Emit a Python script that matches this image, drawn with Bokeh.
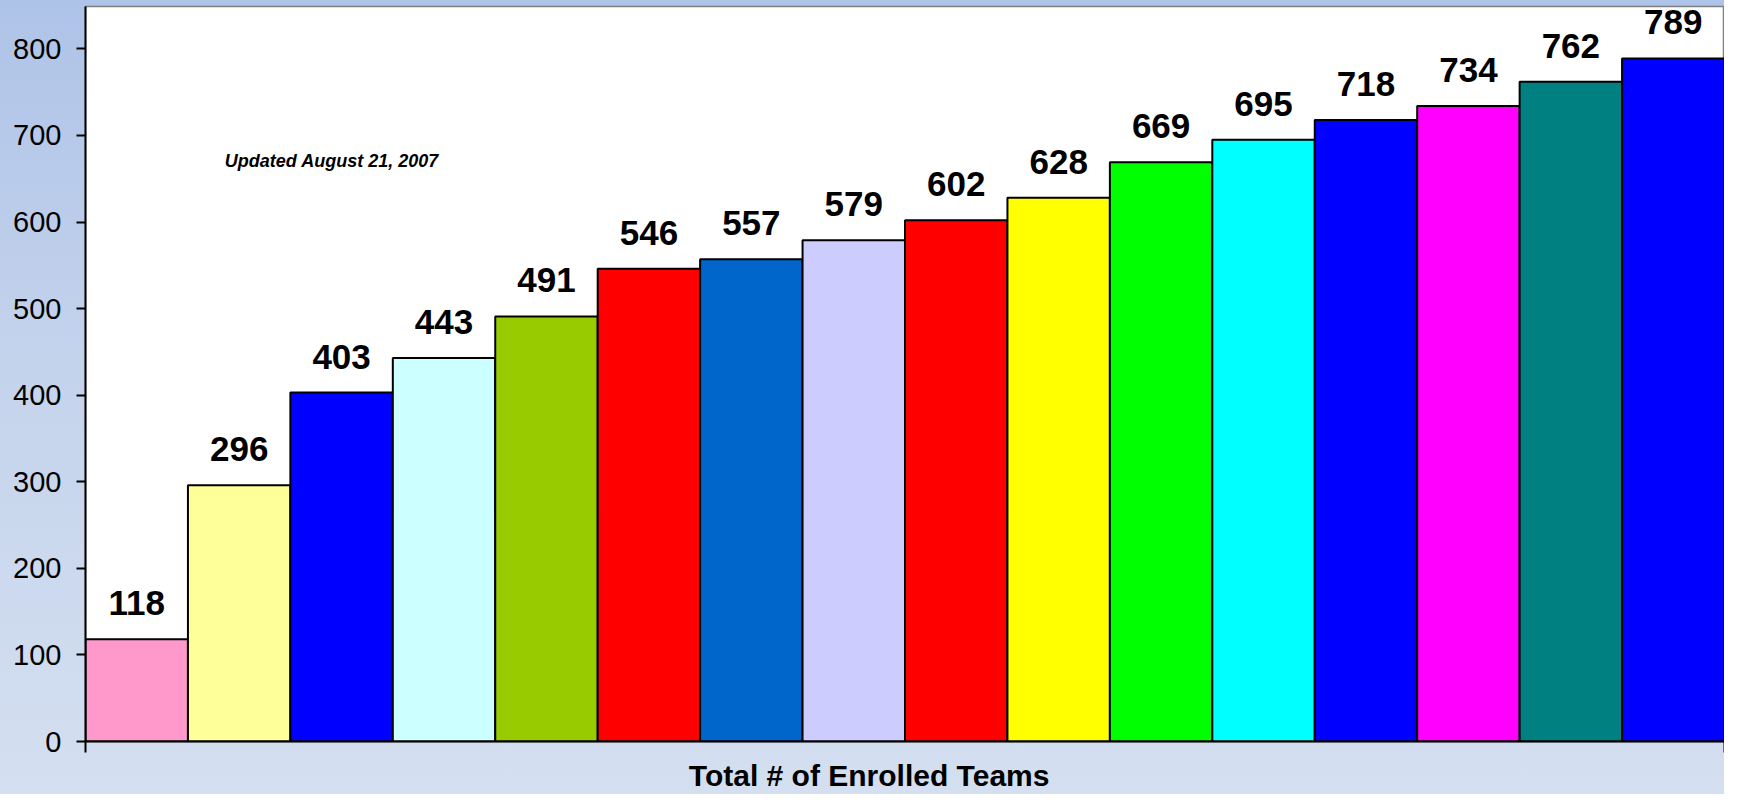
from bokeh.plotting import figure
from bokeh.models import ColumnDataSource, LabelSet, Label, FixedTicker, Range1d
from bokeh.core.properties import value
from bokeh.embed import file_html
from bokeh.resources import INLINE

values = [118, 296, 403, 443, 491, 546, 557, 579, 602, 628, 669, 695, 718, 734, 762, 789]
colors = ["#FF99CC", "#FFFF99", "#0000FF", "#CCFFFF", "#99CC00", "#FF0000", "#0066CC", "#CCCCFF",
          "#FF0000", "#FFFF00", "#00FF00", "#00FFFF", "#0000FF", "#FF00FF", "#008080", "#0000FF"]
y_ticks = [0, 100, 200, 300, 400, 500, 600, 700, 800]
category_label = "Total # of Enrolled Teams"
category_pos = 7.15
note = "Updated August 21, 2007"

n = len(values)
xs = list(range(n))
src = ColumnDataSource(dict(x=xs, top=values, color=colors, label=[str(v) for v in values]))

FONT = "Liberation Sans"

p = figure(width=1724, height=794, output_backend="svg", toolbar_location=None,
           x_range=Range1d(-0.5, n - 0.5), y_range=Range1d(0, 849),
           min_border_left=85, min_border_right=0, min_border_top=6, min_border_bottom=53)
p.border_fill_color = None
p.background_fill_color = "white"
p.outline_line_color = "#808080"
p.outline_line_width = 1.5
p.styles = {"background": "linear-gradient(to bottom, #aec3e8 0%, #c4d3ec 45%, #d4dff0 100%)"}

p.vbar(x="x", top="top", width=1.0, bottom=0, fill_color="color", line_color="black",
       line_width=2, source=src)

labels = LabelSet(x="x", y="top", text="label", source=src, text_align="center",
                  text_baseline="alphabetic", y_offset=24, text_font=value(FONT),
                  text_font_size=value("35px"), text_font_style="bold", text_color="black")
p.add_layout(labels)

p.add_layout(Label(x=0.86, y=671, text=note, text_font=FONT, text_font_size="18px",
                   text_font_style="bold italic", text_color="black", text_baseline="alphabetic"))

p.xgrid.visible = False
p.ygrid.visible = False

p.yaxis.ticker = FixedTicker(ticks=y_ticks)
p.yaxis.axis_line_color = "black"
p.yaxis.axis_line_width = 2
p.yaxis.major_tick_line_color = "black"
p.yaxis.major_tick_line_width = 2
p.yaxis.major_tick_out = 9
p.yaxis.major_tick_in = 0
p.yaxis.minor_tick_line_color = None
p.yaxis.major_label_text_font = FONT
p.yaxis.major_label_text_font_size = "29px"
p.yaxis.major_label_text_color = "black"
p.yaxis.major_label_standoff = 15

# category axis: one label in the middle, edge ticks drawn as minor ticks
p.xaxis.ticker = FixedTicker(ticks=[category_pos], minor_ticks=[-0.5, n - 0.5])
p.xaxis.major_label_overrides = {category_pos: category_label}
p.xaxis.major_label_text_font = FONT
p.xaxis.major_label_text_font_size = "30px"
p.xaxis.major_label_text_font_style = "bold"
p.xaxis.major_label_text_color = "black"
p.xaxis.major_label_standoff = 6
p.xaxis.axis_line_color = "black"
p.xaxis.axis_line_width = 2
p.xaxis.major_tick_line_color = None
p.xaxis.major_tick_out = 0
p.xaxis.major_tick_in = 0
p.xaxis.minor_tick_line_color = "black"
p.xaxis.minor_tick_line_width = 2
p.xaxis.minor_tick_out = 11
p.xaxis.minor_tick_in = 0

open("out.html", "w").write(file_html(p, INLINE))
